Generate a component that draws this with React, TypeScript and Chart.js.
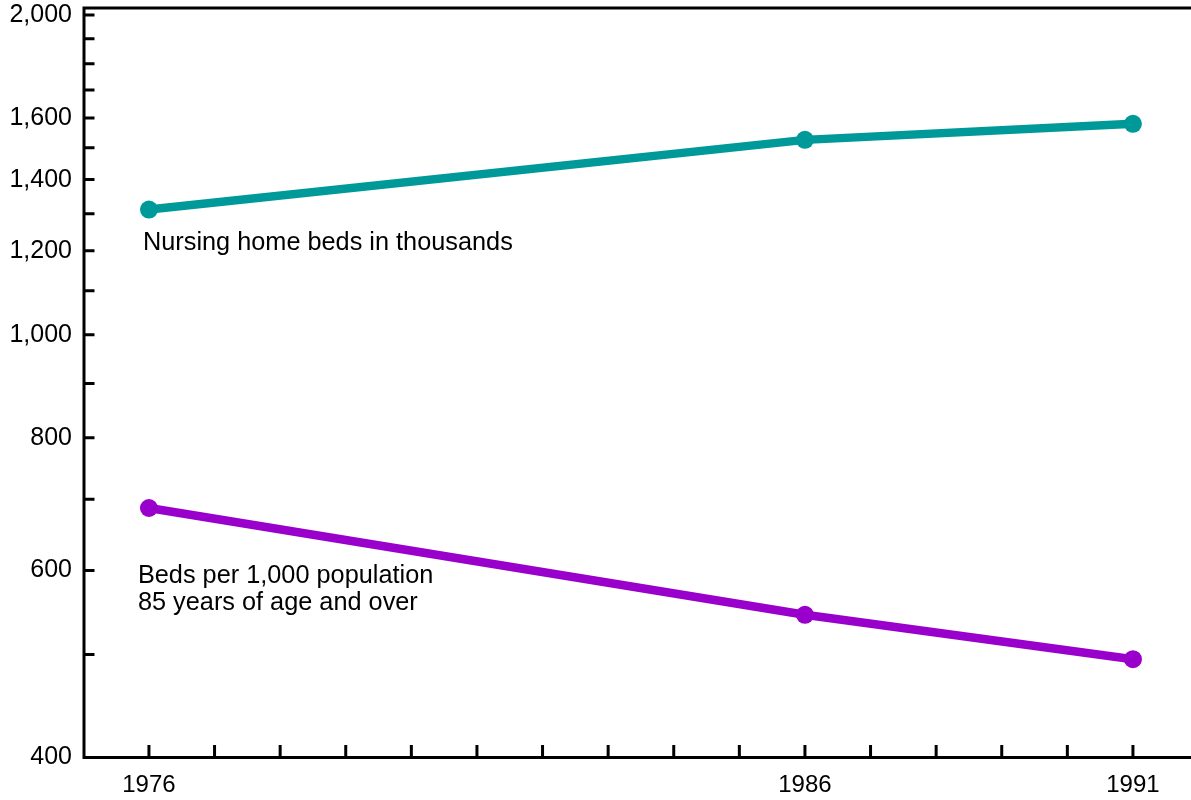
import React, { useEffect, useRef } from 'react';
import { Chart, registerables } from 'chart.js';

Chart.register(...registerables);

// ---- Data ----
const years = [1976, 1986, 1991];
const nursingHomeBeds = [1312, 1526, 1580]; // thousands
const bedsPer1000Aged85 = [687, 545, 495];

// ---- Axis ticks ----
const yTickValues = [400, 500, 600, 700, 800, 900, 1000, 1100, 1200, 1300, 1400, 1500, 1600, 1700, 1800, 1900, 2000];
const yLabeledValues = [400, 600, 800, 1000, 1200, 1400, 1600, 2000];
const xTickYears = [1976, 1977, 1978, 1979, 1980, 1981, 1982, 1983, 1984, 1985, 1986, 1987, 1988, 1989, 1990, 1991];
const xLabeledYears = [1976, 1986, 1991];

// ---- Series labels (placed in data units) ----
const seriesNotes = [
  { lines: ['Nursing home beds in thousands'], year: 1975.909, value: 1202 },
  { lines: ['Beds per 1,000 population', '85 years of age and over'], year: 1975.832, value: 584 },
];

const FONT = '"Liberation Sans", Arial, Helvetica, sans-serif';
const TEAL = '#009999';
const PURPLE = '#9900CC';

const decorPlugin = {
  id: 'decor',
  afterDraw(chart: any) {
    const { ctx, chartArea: a, scales } = chart;
    const x = scales.x;
    const y = scales.y;
    ctx.save();
    ctx.strokeStyle = '#000';
    ctx.lineWidth = 3;
    ctx.lineCap = 'butt';
    // axis frame: left, bottom, top
    ctx.beginPath();
    ctx.moveTo(a.left, a.top - 1.5);
    ctx.lineTo(a.left, a.bottom + 1.5);
    ctx.moveTo(a.left - 1.5, a.bottom);
    ctx.lineTo(a.right, a.bottom);
    ctx.moveTo(a.left - 1.5, a.top);
    ctx.lineTo(a.right, a.top);
    ctx.stroke();
    // y tick marks (inward)
    ctx.beginPath();
    yTickValues.forEach((v) => {
      const py = y.getPixelForValue(v);
      ctx.moveTo(a.left, py);
      ctx.lineTo(a.left + 10.5, py);
    });
    // x tick marks (inward)
    xTickYears.forEach((v) => {
      const px = x.getPixelForValue(v);
      ctx.moveTo(px, a.bottom);
      ctx.lineTo(px, a.bottom - 12.5);
    });
    ctx.stroke();
    // series notes
    ctx.fillStyle = '#000';
    ctx.font = '25.3px ' + FONT;
    ctx.textAlign = 'left';
    ctx.textBaseline = 'alphabetic';
    seriesNotes.forEach((n) => {
      const px = x.getPixelForValue(n.year);
      const py = y.getPixelForValue(n.value);
      n.lines.forEach((line, i) => ctx.fillText(line, px, py + i * 27));
    });
    ctx.restore();
  },
};

export default function App() {
  const canvasRef = useRef<HTMLCanvasElement | null>(null);

  useEffect(() => {
    if (!canvasRef.current) return;
    const chart = new Chart(canvasRef.current, {
      type: 'line',
      data: {
        datasets: [
          {
            label: 'Nursing home beds in thousands',
            data: years.map((yr, i) => ({ x: yr, y: nursingHomeBeds[i] })),
            borderColor: TEAL,
            backgroundColor: TEAL,
            borderWidth: 8.5,
            pointRadius: 9,
            pointBorderWidth: 0,
            pointBackgroundColor: TEAL,
            tension: 0,
            clip: false as any,
          },
          {
            label: 'Beds per 1,000 population 85 years of age and over',
            data: years.map((yr, i) => ({ x: yr, y: bedsPer1000Aged85[i] })),
            borderColor: PURPLE,
            backgroundColor: PURPLE,
            borderWidth: 8.5,
            pointRadius: 9,
            pointBorderWidth: 0,
            pointBackgroundColor: PURPLE,
            tension: 0,
            clip: false as any,
          },
        ],
      },
      options: {
        responsive: false,
        animation: false,
        devicePixelRatio: 1,
        layout: { autoPadding: false, padding: { top: 8, left: 0, right: 0, bottom: 0 } },
        plugins: {
          legend: { display: false },
          tooltip: { enabled: false },
        },
        scales: {
          x: {
            type: 'linear',
            min: 1975.01,
            max: 1991.885,
            grid: { display: false, drawTicks: false },
            border: { display: false },
            afterBuildTicks: (s: any) => {
              s.ticks = xTickYears.map((v) => ({ value: v }));
            },
            afterFit: (s: any) => {
              s.height = 42.5;
              s.paddingLeft = 0;
              s.paddingRight = 0;
            },
            ticks: {
              autoSkip: false,
              maxRotation: 0,
              minRotation: 0,
              padding: 13.5,
              color: '#000',
              font: { family: FONT, size: 24 },
              callback: (v: any) => (xLabeledYears.includes(Number(v)) ? String(v) : ''),
            },
          },
          y: {
            type: 'logarithmic',
            min: 400,
            max: 2031,
            grid: { display: false, drawTicks: false },
            border: { display: false },
            afterBuildTicks: (s: any) => {
              s.ticks = yTickValues.map((v) => ({ value: v }));
            },
            afterFit: (s: any) => {
              s.width = 84;
              s.paddingTop = 0;
              s.paddingBottom = 0;
            },
            ticks: {
              autoSkip: false,
              padding: 12,
              color: '#000',
              font: { family: FONT, size: 25 },
              callback: (v: any) =>
                yLabeledValues.includes(Number(v)) ? Number(v).toLocaleString('en-US') : '',
            },
          },
        },
      },
      plugins: [decorPlugin],
    });
    return () => chart.destroy();
  }, []);

  return (
    <div style={{ position: 'fixed', left: 0, top: 0, width: 1191, height: 800, background: '#fff' }}>
      <canvas ref={canvasRef} width={1191} height={800} style={{ display: 'block' }} />
    </div>
  );
}
